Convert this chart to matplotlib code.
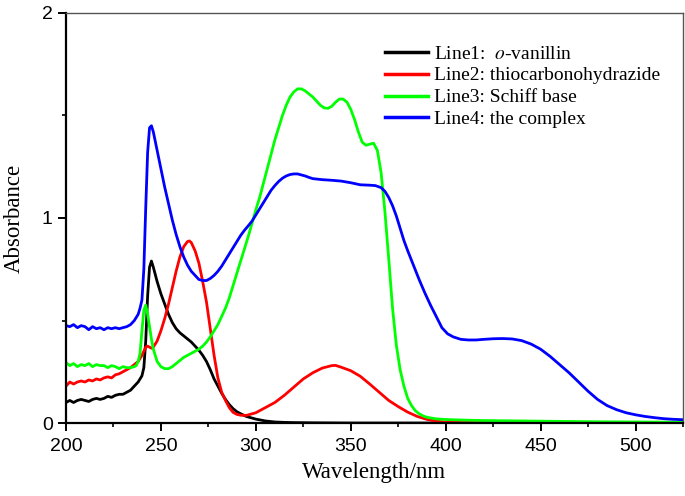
import matplotlib
matplotlib.use("Agg")
import matplotlib.pyplot as plt
from matplotlib.ticker import MultipleLocator

plt.rcParams['mathtext.fontset'] = 'stix'

# ---------------- data ----------------
x1 = [200,202,204,206,208,210,212,214,216,218,220,222,224,226,228,230,232,234,236,238,240,241,242,243,244,245,246,248,250,252,254,256,258,260,262,264,266,268,270,272,274,276,278,280,282,284,286,288,290,292,295,300,305,310,315,320,330,350,400,450,525]
y1 = [0.10,0.11,0.10,0.11,0.115,0.11,0.105,0.115,0.12,0.115,0.12,0.13,0.125,0.135,0.14,0.14,0.15,0.16,0.18,0.20,0.23,0.27,0.40,0.62,0.76,0.79,0.76,0.69,0.63,0.58,0.53,0.49,0.46,0.44,0.425,0.41,0.395,0.375,0.355,0.33,0.30,0.26,0.215,0.18,0.145,0.115,0.09,0.07,0.055,0.045,0.032,0.019,0.01,0.005,0.003,0.002,0.001,0.0,0.0,0.0,0.0]

x2 = [200,202,204,206,208,210,212,214,216,218,220,222,224,226,228,230,232,234,236,238,240,242,243,244,245,246,248,250,252,254,256,258,260,262,264,265,266,268,270,272,274,276,278,280,282,284,286,288,290,292,295,300,305,310,315,320,325,330,335,340,342,345,350,355,360,365,370,375,380,385,390,395,400,410,450,525]
y2 = [0.18,0.20,0.19,0.20,0.205,0.20,0.21,0.205,0.215,0.21,0.22,0.225,0.22,0.235,0.24,0.25,0.26,0.27,0.285,0.30,0.33,0.37,0.375,0.37,0.365,0.37,0.40,0.45,0.51,0.58,0.66,0.74,0.81,0.86,0.885,0.888,0.88,0.84,0.78,0.69,0.59,0.46,0.33,0.22,0.15,0.11,0.075,0.052,0.042,0.038,0.037,0.05,0.075,0.10,0.135,0.175,0.215,0.245,0.268,0.28,0.281,0.272,0.255,0.228,0.19,0.15,0.11,0.08,0.053,0.032,0.018,0.009,0.004,0.002,0.0,0.0]

x3 = [200,202,204,206,208,210,212,214,216,218,220,222,224,226,228,230,232,234,236,237,238,239,240,241,242,243,244,245,246,248,250,252,254,256,258,260,262,264,266,268,270,272,274,276,278,280,282,284,286,288,290,292,294,296,298,300,302,304,306,308,310,312,314,316,318,320,322,324,326,328,330,332,334,336,338,340,342,344,346,348,350,352,354,356,358,360,362,364,366,368,370,372,374,376,378,380,382,384,386,388,390,395,400,410,420,440,460,480,500,525]
y3 = [0.295,0.28,0.29,0.275,0.285,0.28,0.29,0.275,0.285,0.28,0.28,0.27,0.28,0.275,0.265,0.275,0.27,0.27,0.275,0.28,0.30,0.34,0.45,0.55,0.575,0.53,0.47,0.41,0.36,0.30,0.275,0.265,0.265,0.275,0.29,0.305,0.32,0.33,0.34,0.35,0.36,0.375,0.395,0.42,0.45,0.48,0.52,0.56,0.61,0.67,0.73,0.79,0.85,0.91,0.975,1.04,1.10,1.17,1.24,1.31,1.38,1.44,1.50,1.55,1.59,1.615,1.63,1.63,1.62,1.605,1.59,1.57,1.55,1.537,1.535,1.545,1.565,1.58,1.58,1.565,1.53,1.48,1.42,1.37,1.355,1.36,1.365,1.33,1.22,1.03,0.80,0.56,0.38,0.26,0.18,0.12,0.085,0.06,0.045,0.035,0.028,0.02,0.017,0.014,0.012,0.01,0.008,0.006,0.005,0.004]

x4 = [200,202,204,206,208,210,212,214,216,218,220,222,224,226,228,230,232,234,236,238,239,240,241,242,243,244,245,246,248,250,252,254,256,258,260,262,264,266,268,270,272,274,276,278,280,282,284,286,288,290,292,294,296,298,300,302,304,306,308,310,312,314,316,318,320,322,324,326,328,330,335,340,345,350,355,360,363,366,368,370,372,374,376,378,380,383,386,389,392,395,398,401,404,408,412,416,420,425,430,435,440,445,450,455,460,465,470,475,480,485,490,495,500,505,510,515,520,525]
y4 = [0.475,0.47,0.48,0.465,0.475,0.47,0.455,0.47,0.46,0.465,0.455,0.465,0.46,0.465,0.46,0.465,0.47,0.48,0.50,0.53,0.56,0.60,0.75,1.05,1.32,1.44,1.45,1.42,1.33,1.24,1.15,1.07,0.99,0.92,0.86,0.81,0.77,0.74,0.72,0.70,0.695,0.695,0.705,0.72,0.74,0.765,0.795,0.825,0.855,0.885,0.915,0.94,0.962,0.985,1.015,1.045,1.075,1.105,1.135,1.158,1.178,1.194,1.205,1.212,1.215,1.215,1.21,1.205,1.198,1.192,1.187,1.184,1.18,1.172,1.162,1.16,1.158,1.148,1.13,1.10,1.06,1.01,0.95,0.89,0.84,0.77,0.70,0.635,0.575,0.52,0.465,0.435,0.42,0.408,0.405,0.405,0.408,0.411,0.412,0.41,0.402,0.385,0.36,0.325,0.285,0.245,0.2,0.155,0.115,0.085,0.065,0.05,0.04,0.032,0.026,0.021,0.018,0.016]

labels = ["Line1:  $\\mathit{o}$-vanillin",
          "Line2: thiocarbonohydrazide",
          "Line3: Schiff base",
          "Line4: the complex"]
colors = ["#000000", "#ff0000", "#00ff00", "#0000ff"]

xticks = [200, 250, 300, 350, 400, 450, 500]
yticks = [0, 1, 2]

# ---------------- figure ----------------
fig = plt.figure(figsize=(6.85, 4.96), dpi=100)
ax = fig.add_axes([66/685, 1-423/496, 617/685, 410/496])

for xs, ys, c, lab in zip([x1, x2, x3, x4], [y1, y2, y3, y4], colors, labels):
    ax.plot(xs, ys, color=c, lw=2.0, label=lab, solid_joinstyle='round')

ax.set_xlim(200, 525)
ax.set_ylim(0, 2)
ax.set_xticks(xticks)
ax.set_yticks(yticks)
ax.xaxis.set_minor_locator(MultipleLocator(25))
ax.yaxis.set_minor_locator(MultipleLocator(0.5))

for s in ['left', 'bottom']:
    ax.spines[s].set_linewidth(1.6)
    ax.spines[s].set_color('black')
for s in ['top', 'right']:
    ax.spines[s].set_linewidth(1.0)
    ax.spines[s].set_color('#555555')

ax.tick_params(which='major', direction='out', length=5.5, width=1.4, top=False, right=False)
ax.tick_params(which='minor', direction='out', length=3, width=1.2, top=False, right=False)
for lab in ax.get_xticklabels() + ax.get_yticklabels():
    lab.set_family('Liberation Sans')
    lab.set_fontsize(14)
ax.tick_params(axis='x', pad=5)
ax.tick_params(axis='y', pad=4)

ax.set_xlabel("Wavelength/nm", family='Liberation Serif', fontsize=16.5, labelpad=5)
ax.set_ylabel("Absorbance", family='Liberation Serif', fontsize=16.5, labelpad=12)

leg = ax.legend(loc='upper left', bbox_to_anchor=((385-66)/617, 0.922),
                frameon=False, borderpad=0, borderaxespad=0,
                handlelength=2.2, handletextpad=0.3, labelspacing=0.22,
                prop={'family': 'Liberation Serif', 'size': 14})
for l in leg.get_lines():
    l.set_linewidth(2.5)

fig.savefig("out.png", dpi=100)
